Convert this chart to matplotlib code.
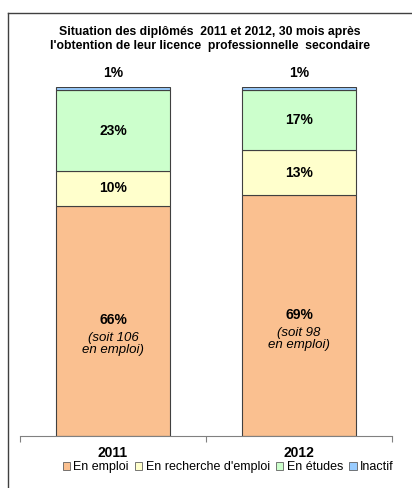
import matplotlib.pyplot as plt
from matplotlib.lines import Line2D
import numpy as np

# -----------------------------
# Data
# -----------------------------
years = ["2011", "2012"]
categories = ["En emploi", "En recherche d'emploi", "En études", "Inactif"]
emploi = [66, 69]
recherche = [10, 13]
etudes = [23, 17]
inactif = [1, 1]
effectifs = [106, 98]

colors = ["#FAC090", "#FFFFCC", "#CCFFCC", "#99CCFF"]

plt.rcParams["font.family"] = ["Liberation Sans", "DejaVu Sans"]

fig = plt.figure(figsize=(4.12, 4.88), dpi=100)
fig.patch.set_facecolor("white")

W, H = 412, 488
ax = fig.add_axes([20 / W, (H - 436) / H, (392 - 20) / W, (436 - 87) / H])

x = np.arange(len(years))
series = [emploi, recherche, etudes, inactif]
bottoms = np.zeros(len(years))
for vals, col, name in zip(series, colors, categories):
    ax.bar(x, vals, bottom=bottoms, width=0.61, color=col, edgecolor="#404040",
           linewidth=0.8, label=name)
    bottoms += np.array(vals)

ax.set_xlim(-0.5, 1.5)
ax.set_ylim(0, 100)

# labels
for i in range(len(years)):
    ax.text(x[i], emploi[i] / 2 + 0.3, f"{emploi[i]}%", ha="center", va="center",
            fontsize=10, fontweight="bold")
    ax.text(x[i], emploi[i] / 2 - 6.6, f"(soit {effectifs[i]}\nen emploi)", ha="center",
            va="center", fontsize=9.5, style="italic", linespacing=1.0)
    b = emploi[i]
    ax.text(x[i], b + recherche[i] / 2, f"{recherche[i]}%", ha="center", va="center",
            fontsize=10, fontweight="bold")
    b += recherche[i]
    ax.text(x[i], b + etudes[i] / 2, f"{etudes[i]}%", ha="center", va="center",
            fontsize=10, fontweight="bold")
    ax.text(x[i], 104, f"{inactif[i]}%", ha="center", va="center",
            fontsize=10, fontweight="bold", clip_on=False)

for s in ["top", "right", "left"]:
    ax.spines[s].set_visible(False)
ax.spines["bottom"].set_color("#808080")
ax.spines["bottom"].set_linewidth(0.8)
ax.set_yticks([])
ax.set_xticks([-0.5, 0.5, 1.5])
ax.set_xticklabels([])
ax.set_xticks(x, minor=True)
ax.set_xticklabels(years, minor=True, fontsize=10, fontweight="bold")
ax.tick_params(axis="x", which="major", length=4, color="#808080", direction="out")
ax.tick_params(axis="x", which="minor", length=0, pad=7)

fig.text(0.51, (H - 39) / H, "Situation des diplômés  2011 et 2012, 30 mois après\n"
         "l'obtention de leur licence  professionnelle  secondaire",
         ha="center", va="center", fontsize=8.8, fontweight="bold", linespacing=1.3)

leg = fig.legend(loc="center", bbox_to_anchor=(228 / W, (H - 467) / H), ncol=4,
                 frameon=False, fontsize=9, handlelength=0.6, handleheight=0.6,
                 handletextpad=0.25, columnspacing=0.5, borderaxespad=0)
for h in leg.legend_handles:
    h.set_edgecolor("#606060")
    h.set_linewidth(0.6)

# frame of the chart area
fig.add_artist(Line2D([8 / W, 8 / W], [0, (H - 13) / H], color="#404040", linewidth=1.0))
fig.add_artist(Line2D([8 / W, 1], [(H - 13) / H, (H - 13) / H], color="#404040", linewidth=1.0))

fig.savefig("out.png", dpi=100)
